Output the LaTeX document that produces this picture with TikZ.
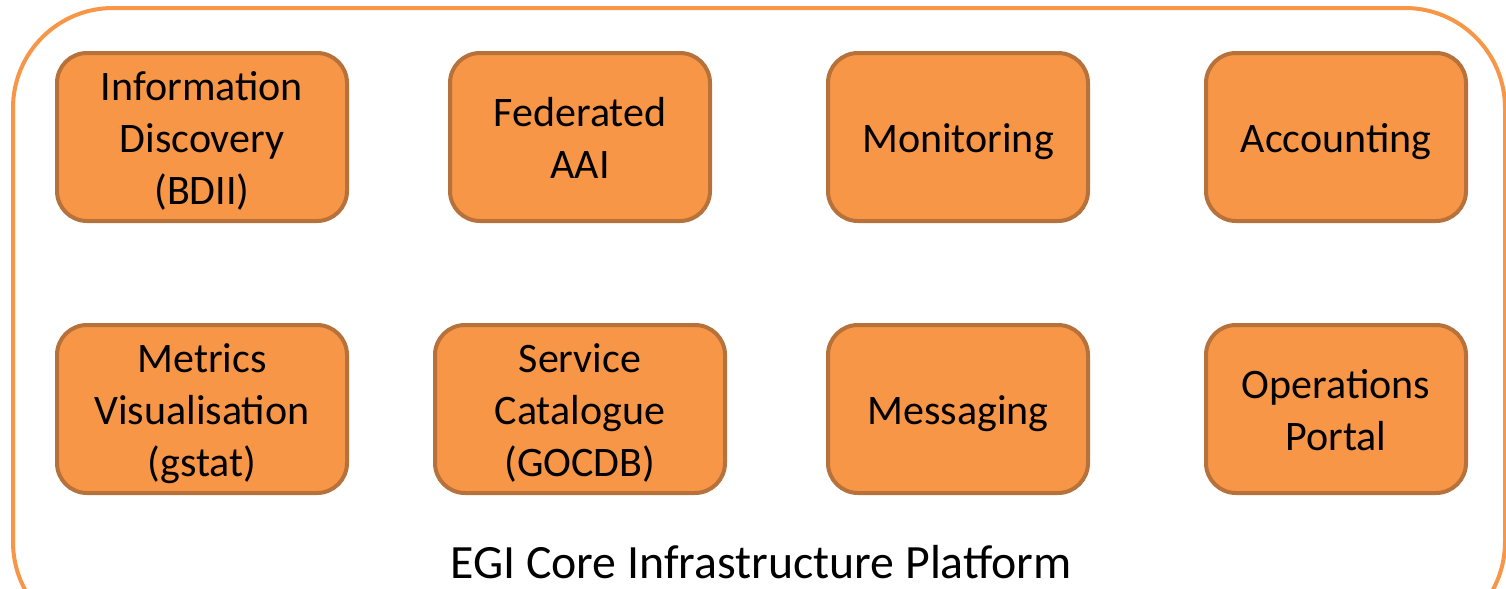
\documentclass[tikz,border=0pt]{standalone}
\usepackage{fontspec}
\setmainfont{Carlito}
\definecolor{boxfill}{HTML}{F79646}
\definecolor{boxline}{HTML}{B7713A}
\definecolor{outerline}{HTML}{F79646}
\newcommand{\stacklines}[1]{\begin{tabular}[b]{@{}c@{}}#1\end{tabular}}
\begin{document}
\begin{tikzpicture}[x=0.5pt,y=-0.5pt,
  svc/.style={draw=boxline,fill=boxfill,line width=2pt,rounded corners=15pt,
    minimum height=84pt,inner sep=2pt,text depth=0pt,
    font=\fontsize{21}{26}\selectfont},
  oneline/.style={text height=15pt},
  twolines/.style={text height=41pt},
  threelines/.style={text height=67pt},
  wide/.style={svc,minimum width=145pt},
  narrow/.style={svc,minimum width=130pt},
  platform/.style={draw=outerline,line width=2pt,rounded corners=50pt}]
\useasboundingbox (0,0) rectangle (1506,589);
\clip (0,0) rectangle (1506,589);
\fill[white] (0,0) rectangle (1506,589);
\draw[platform] (13,8) rectangle (1505,642);
\node[wide,threelines] (bdii) at (202,137) {\stacklines{Information\\Discovery\\(BDII)}};
\node[narrow,twolines] (aai)  at (580,137) {\stacklines{Federated\\AAI}};
\node[narrow,oneline]  (mon)  at (958,137) {Monitoring};
\node[narrow,oneline]  (acc)  at (1336,137) {Accounting};
\node[wide,threelines] (gstat) at (202,409) {\stacklines{Metrics\\Visualisation\\(gstat)}};
\node[wide,threelines] (gocdb) at (580,409) {\stacklines{Service\\Catalogue\\(GOCDB)}};
\node[narrow,oneline]  (msg)  at (958,409) {Messaging};
\node[narrow,twolines] (ops)  at (1336,409) {\stacklines{Operations\\Portal}};
\node[anchor=base,inner sep=0pt,font=\fontsize{23.9}{28}\selectfont] (lbl) at (761,578) {EGI Core Infrastructure Platform};
\end{tikzpicture}
\end{document}
